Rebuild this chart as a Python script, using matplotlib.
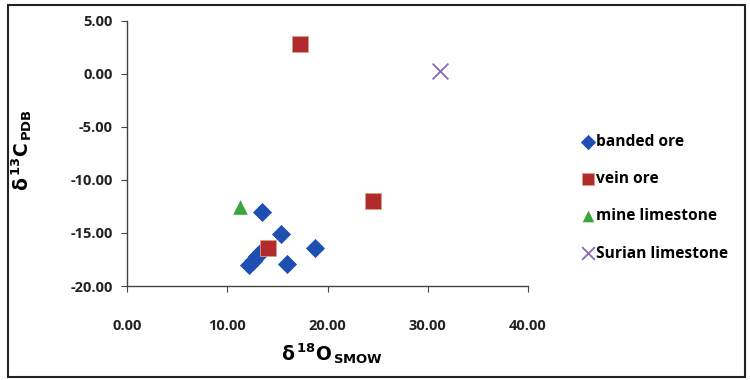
import matplotlib
matplotlib.use("Agg")
import matplotlib.pyplot as plt
from matplotlib.patches import Rectangle

banded_x = [13.5, 15.4, 18.8, 16.0, 12.2, 12.6, 13.0, 13.4]
banded_y = [-13.0, -15.1, -16.4, -17.9, -18.0, -17.6, -17.2, -16.8]
vein_x = [17.3, 24.5, 14.1]
vein_y = [2.8, -12.0, -16.4]
mine_x = [11.3]
mine_y = [-12.6]
surian_x = [31.2]
surian_y = [0.3]
xticks = [0, 10, 20, 30, 40]
yticks = [5, 0, -5, -10, -15, -20]

plt.rcParams['font.family'] = ['Open Sans', 'DejaVu Sans']

W, H = 750, 380
fig = plt.figure(figsize=(7.5, 3.8), dpi=100)
ax = fig.add_axes([127 / W, 1 - 286 / H, (528 - 127) / W, (286 - 20.7) / H])

ax.scatter(banded_x, banded_y, marker='D', s=95, color='#1f4fb0', label='banded ore', zorder=3, linewidths=0)
ax.scatter(vein_x, vein_y, marker='s', s=125, color='#b02a2e', edgecolors='#d9a080', linewidths=0.6, label='vein ore', zorder=4)
ax.scatter(mine_x, mine_y, marker='^', s=110, color='#3aa53a', label='mine limestone', zorder=3, linewidths=0)
ax.scatter(surian_x, surian_y, marker='x', s=130, color='#8a6bb8', linewidths=1.3, label='Surian limestone', zorder=3)

ax.set_xlim(0, 40)
ax.set_ylim(-20, 5)
ax.set_xticks(xticks)
ax.set_yticks(yticks)
ax.set_xticklabels([f"{v:.2f}" for v in xticks], fontsize=10.5, fontweight='bold', color='#222222')
ax.set_yticklabels([f"{v:.2f}" for v in yticks], fontsize=10.5, fontweight='bold', color='#222222')
ax.tick_params(axis='x', direction='out', length=4, pad=20, color='#444444')
ax.tick_params(axis='y', direction='out', length=4, pad=6, color='#444444')
for s in ['top', 'right']:
    ax.spines[s].set_visible(False)
for s in ['left', 'bottom']:
    ax.spines[s].set_color('#444444')
    ax.spines[s].set_linewidth(1.0)

fig.text(22 / W, 1 - 150 / H, r'$\mathbf{\delta}^{\,\mathbf{13}}$' + r'$\mathbf{C}_{\,\mathbf{PDB}}$',
         rotation=90, ha='center', va='center', fontsize=13.5, fontweight='bold')
fig.text(332 / W, 1 - 354 / H, r'$\mathbf{\delta}^{\,\mathbf{18}}$' + r'$\mathbf{O}_{\,\mathbf{SMOW}}$',
         ha='center', va='center', fontsize=13.5, fontweight='bold')

leg = ax.legend(loc='center left', bbox_to_anchor=(566 / W, 1 - 198 / H), bbox_transform=fig.transFigure,
                frameon=False, handletextpad=0.05, labelspacing=1.35,
                prop={'weight': 'bold', 'size': 11.2}, handlelength=1.0,
                scatterpoints=1, markerscale=0.8)

fig.patches.append(Rectangle((8 / W, 1 - 377 / H), (745 - 8) / W, (377 - 5) / H,
                             transform=fig.transFigure, fill=False, edgecolor='#222222', linewidth=1.5))

fig.savefig('out.png', dpi=100)
